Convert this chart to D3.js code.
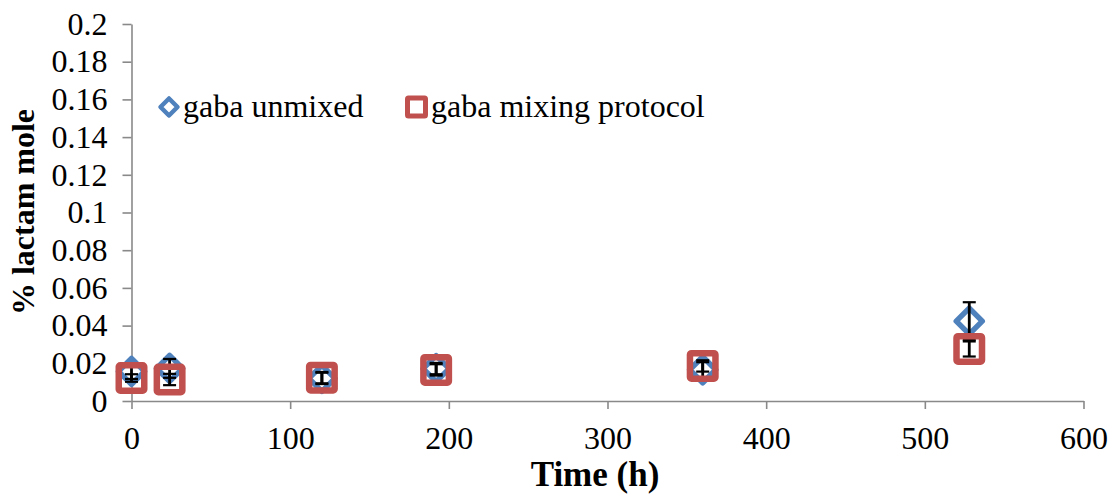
<!DOCTYPE html>
<html>
<head>
<meta charset="utf-8">
<script src="https://cdn.jsdelivr.net/npm/d3@7"></script>
<style>
  html, body { margin: 0; padding: 0; background: #ffffff; }
  svg { display: block; }
  text { font-family: "Liberation Serif", "Times New Roman", serif; fill: #000; }
</style>
</head>
<body>
<script>
// Sampling times (h)
const times = [0, 24, 120, 192, 360, 528];
// % lactam mole, GABA without mixing
const unmixed = [0.0157, 0.0173, 0.0120, 0.0172, 0.0166, 0.0424];
const unmixedErr = [0.004, 0.005, 0.003, 0.003, 0.004, 0.010];
// % lactam mole, GABA with the mixing protocol
const mixing = [0.0122, 0.0114, 0.0124, 0.0165, 0.0186, 0.0276];
const mixingErr = [0.002, 0.003, 0.003, 0.003, 0.003, 0.004];

const seriesNames = ["gaba unmixed", "gaba mixing protocol"];
const xTicks = [0, 100, 200, 300, 400, 500, 600];
const yTicks = [0, 0.02, 0.04, 0.06, 0.08, 0.1, 0.12, 0.14, 0.16, 0.18, 0.2];
const yTickLabels = ["0", "0.02", "0.04", "0.06", "0.08", "0.1", "0.12", "0.14", "0.16", "0.18", "0.2"];

const W = 1110, H = 496;
const blue = "#4F81BD", red = "#C0504D", axisGrey = "#898989";

const svg = d3.select("body").append("svg").attr("width", W).attr("height", H);

const x = d3.scaleLinear().domain([0, 600]).range([131.5, 1083.5]);
const y = d3.scaleLinear().domain([0, 0.2]).range([401, 24]);

// Axes
const yAxis = d3.axisLeft(y).tickValues(yTicks)
  .tickFormat((d, i) => yTickLabels[i]).tickSize(9).tickSizeOuter(0).tickPadding(15);
const xAxis = d3.axisBottom(x).tickValues(xTicks)
  .tickFormat(d => String(d)).tickSize(8).tickSizeOuter(0).tickPadding(17);

const gy = svg.append("g").attr("transform", `translate(${x(0)},0)`).call(yAxis);
const gx = svg.append("g").attr("transform", `translate(0,${y(0)})`).call(xAxis);
[gx, gy].forEach(g => {
  g.selectAll("path.domain").attr("stroke", axisGrey).attr("stroke-width", 1.6);
  g.selectAll(".tick line").attr("stroke", axisGrey).attr("stroke-width", 1.6);
  g.selectAll(".tick text").attr("font-size", 32)
    .attr("font-family", '"Liberation Serif", "Times New Roman", serif').attr("fill", "#000");
});

// Axis titles
svg.append("text").attr("x", 595).attr("y", 486).attr("text-anchor", "middle")
  .attr("font-size", 35).attr("font-weight", "bold").text("Time (h)");
svg.append("text").attr("transform", `translate(34,212) rotate(-90)`)
  .attr("text-anchor", "middle").attr("font-size", 32).attr("font-weight", "bold")
  .text("% lactam mole");

// Marker shapes
function diamondPath(r) { return `M0,${-r}L${r},0L0,${r}L${-r},0Z`; }

function drawSeries(vals, errs, kind) {
  const g = svg.append("g");
  const pts = times.map((t, i) => ({ t, v: vals[i], e: errs[i] }));
  if (kind === "diamond") {
    g.selectAll("path.mk").data(pts).join("path").attr("class", "mk")
      .attr("transform", d => `translate(${x(d.t)},${y(d.v)})`)
      .attr("d", diamondPath(13)).attr("fill", "#fff")
      .attr("stroke", blue).attr("stroke-width", 5.5).attr("stroke-linejoin", "round");
  } else {
    const s = 25.5;
    g.selectAll("rect.mk").data(pts).join("rect").attr("class", "mk")
      .attr("x", d => x(d.t) - s / 2).attr("y", d => y(d.v) - s / 2)
      .attr("width", s).attr("height", s).attr("rx", 1.5)
      .attr("fill", "none").attr("stroke", red).attr("stroke-width", 6.5);
  }
  // Error bars
  const cap = 6.5;
  const eb = g.selectAll("g.eb").data(pts).join("g").attr("class", "eb");
  eb.append("line").attr("x1", d => x(d.t)).attr("x2", d => x(d.t))
    .attr("y1", d => y(d.v + d.e)).attr("y2", d => y(d.v - d.e))
    .attr("stroke", "#000").attr("stroke-width", 2.8);
  eb.append("line").attr("x1", d => x(d.t) - cap).attr("x2", d => x(d.t) + cap)
    .attr("y1", d => y(d.v + d.e)).attr("y2", d => y(d.v + d.e))
    .attr("stroke", "#000").attr("stroke-width", 2.2);
  eb.append("line").attr("x1", d => x(d.t) - cap).attr("x2", d => x(d.t) + cap)
    .attr("y1", d => y(d.v - d.e)).attr("y2", d => y(d.v - d.e))
    .attr("stroke", "#000").attr("stroke-width", 2.2);
}

drawSeries(unmixed, unmixedErr, "diamond");
drawSeries(mixing, mixingErr, "square");

// Legend
const lg = svg.append("g");
lg.append("path").attr("transform", "translate(169,107)").attr("d", diamondPath(8.5))
  .attr("fill", "#fff").attr("stroke", blue).attr("stroke-width", 4.5).attr("stroke-linejoin", "round");
lg.append("text").attr("x", 183).attr("y", 117).attr("font-size", 32).text(seriesNames[0]);
lg.append("rect").attr("x", 407.5).attr("y", 98).attr("width", 18).attr("height", 18).attr("rx", 1)
  .attr("fill", "#fff").attr("stroke", red).attr("stroke-width", 5);
lg.append("text").attr("x", 431).attr("y", 117).attr("font-size", 32).text(seriesNames[1]);
</script>
</body>
</html>
